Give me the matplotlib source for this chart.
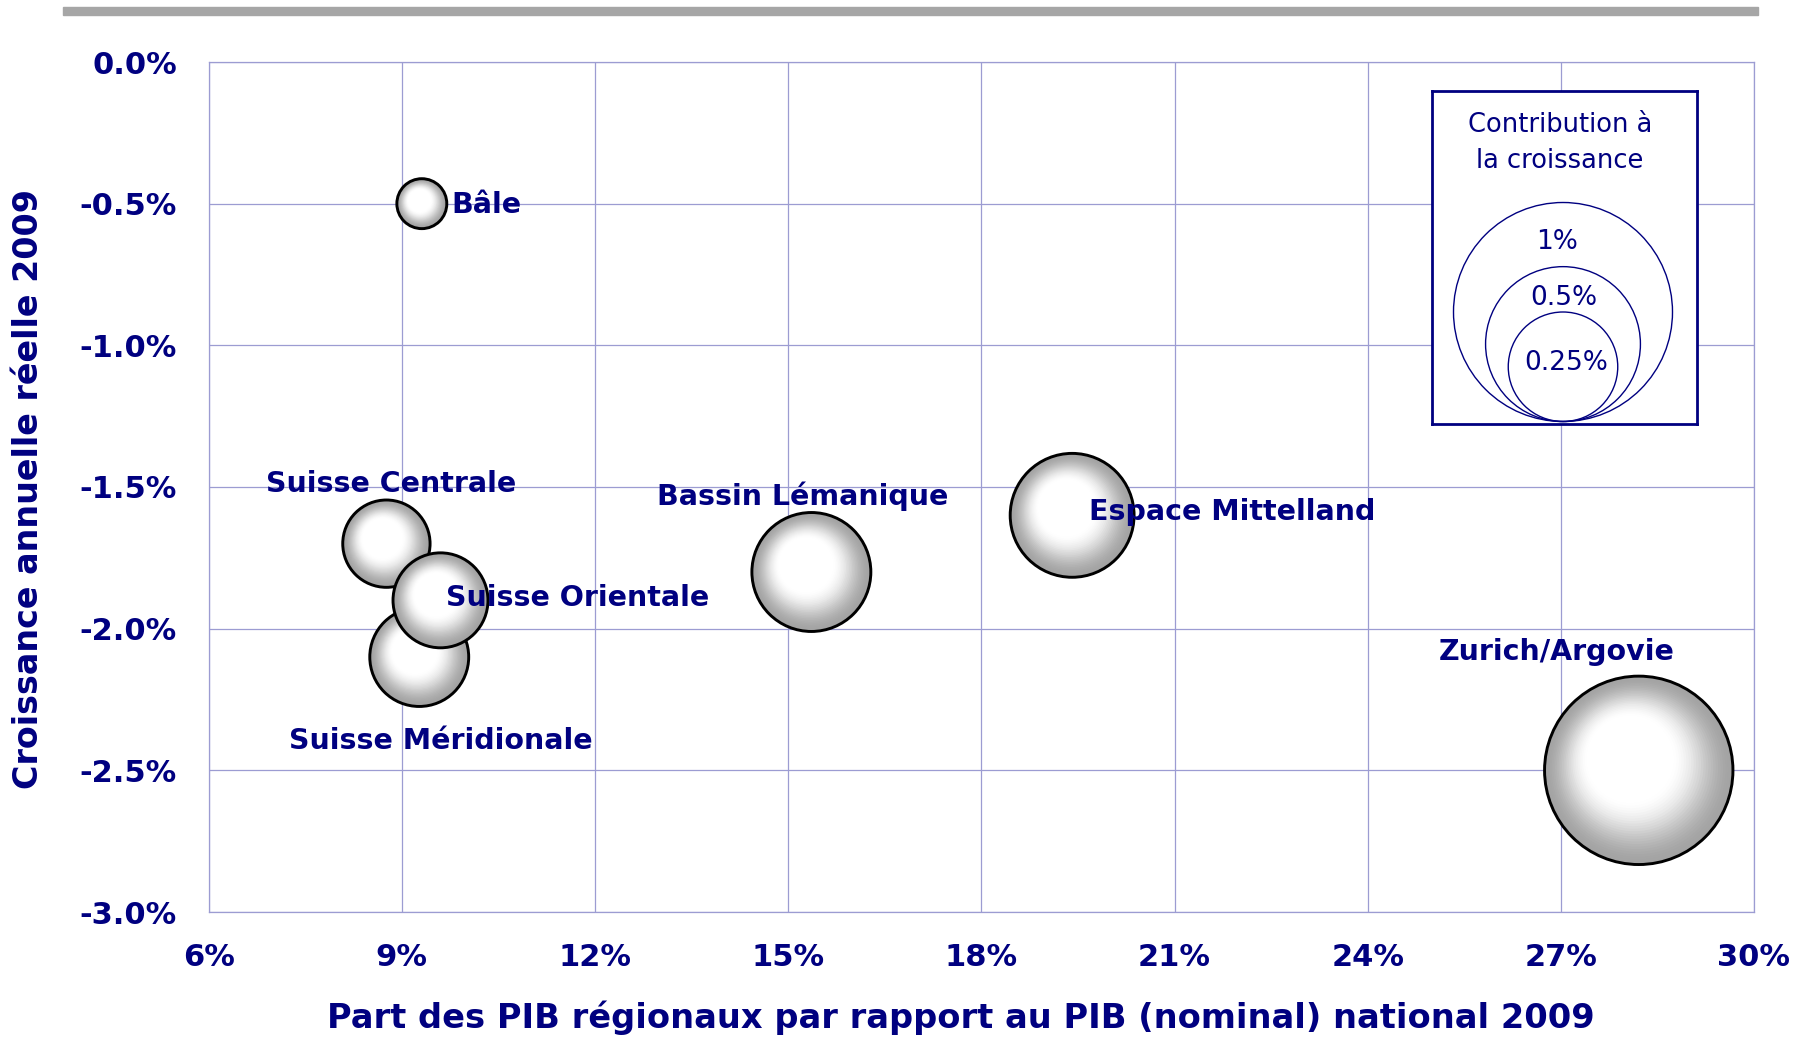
import matplotlib
matplotlib.use("Agg")
import matplotlib.pyplot as plt
from matplotlib.patches import Circle, Rectangle
from matplotlib.transforms import IdentityTransform

# Données
regions = ["Bâle", "Suisse Centrale", "Suisse Méridionale", "Suisse Orientale",
           "Bassin Lémanique", "Espace Mittelland", "Zurich/Argovie"]
part_pib = [9.31, 8.76, 9.27, 9.60, 15.36, 19.41, 28.21]          # % du PIB national
croissance = [-0.50, -1.70, -2.10, -1.90, -1.80, -1.60, -2.50]     # croissance réelle 2009 (%)
contribution = [0.052, 0.159, 0.204, 0.188, 0.295, 0.32, 0.74]     # contribution à la croissance (%)

legende_valeurs = [1.0, 0.5, 0.25]
legende_textes = ["1%", "0.5%", "0.25%"]

x_ticks = [6, 9, 12, 15, 18, 21, 24, 27, 30]
y_ticks = [0.0, -0.5, -1.0, -1.5, -2.0, -2.5, -3.0]

# position des étiquettes (décalage en points, alignement)
etiquettes = [(21.5, -0.8, "left"), (3.3, 43, "center"), (15.7, -60.5, "center"),
              (4.1, 1.7, "left"), (-6.2, 54.7, "center"), (12.4, 2.5, "left"),
              (-58.8, 85.4, "center")]

W, H = 1805, 1040
NAVY = "#000080"
GRID = "#9c9cd2"
R1 = 109.5  # rayon (px) d'une bulle de 1%

fig = plt.figure(figsize=(W / 100, H / 100), dpi=100)
ax = fig.add_axes([208.7 / W, 1 - 912 / H, (1754 - 208.7) / W, (912 - 62) / H])
ax.set_xlim(6, 30)
ax.set_ylim(-3, 0)
ax.set_xticks(x_ticks)
ax.set_yticks(y_ticks)
ax.set_xticklabels(["%d%%" % v for v in x_ticks])
ax.set_yticklabels(["%.1f%%" % v for v in y_ticks])
ax.tick_params(length=0, labelsize=22, labelcolor=NAVY)
ax.tick_params(axis="x", pad=22)
ax.tick_params(axis="y", pad=23)
for lab in ax.get_xticklabels() + ax.get_yticklabels():
    lab.set_fontweight("bold")
ax.grid(True, color=GRID, lw=0.9)
ax.set_axisbelow(True)
for s in ax.spines.values():
    s.set_color(GRID)
    s.set_linewidth(0.9)


def bulle(ax, cx, cy, r, z):
    # dégradé radial avec reflet en haut à gauche
    n = 45
    for k in range(n):
        t = k / n
        u = min(1.0, t / 0.55)
        g = 0.64 + 0.36 * (u * u * (3 - 2 * u))
        ax.add_patch(Circle((cx - 0.17 * r * t, cy + 0.22 * r * t), r * (1 - t),
                            transform=IdentityTransform(), facecolor=(g, g, g),
                            edgecolor="none", zorder=z))
    ax.add_patch(Circle((cx, cy), r, transform=IdentityTransform(), facecolor="none",
                        edgecolor="black", lw=2.1, zorder=z + 0.5))


for i in range(len(regions)):
    px, py = ax.transData.transform((part_pib[i], croissance[i]))
    bulle(ax, px, py, R1 * contribution[i] ** 0.5, 3 + i)
    dx, dy, ha = etiquettes[i]
    ax.annotate(regions[i], (part_pib[i], croissance[i]), xytext=(dx, dy),
                textcoords="offset points", ha=ha, va="center", fontsize=20.5,
                fontweight="bold", color=NAVY, zorder=20)

ax.set_xlim(6, 30)
ax.set_ylim(-3, 0)

fig.text(961 / W, 1 - 1018 / H, "Part des PIB régionaux par rapport au PIB (nominal) national 2009",
         ha="center", va="center", fontsize=24.2, fontweight="bold", color=NAVY)
fig.text(29 / W, 1 - 489 / H, "Croissance annuelle réelle 2009", rotation=90,
         ha="center", va="center", fontsize=24, fontweight="bold", color=NAVY)

# barre grise en haut
fig.add_artist(Rectangle((63 / W, 1 - 14.7 / H), (1758 - 63) / W, 7.3 / H,
                         transform=fig.transFigure, color="#a6a6a6"))

# légende des tailles
lax = fig.add_axes([1432 / W, 1 - 424 / H, 265 / W, 333 / H])
lax.set_xlim(0, 265)
lax.set_ylim(0, 333)
lax.set_xticks([])
lax.set_yticks([])
for s in lax.spines.values():
    s.set_color(NAVY)
    s.set_linewidth(2)
lax.text(128, 281, "Contribution à\nla croissance", ha="center", va="center",
         fontsize=18.5, color=NAVY, linespacing=1.55)
lab_pos = [(125.5, 182), (132, 126), (134, 61)]
for v, txt, (tx, ty) in zip(legende_valeurs, legende_textes, lab_pos):
    r = R1 * v ** 0.5
    lax.add_patch(Circle((131, 2.5 + r), r, facecolor="none", edgecolor=NAVY, lw=1))
    lax.text(tx, ty, txt, ha="center", va="center", fontsize=19, color=NAVY)

fig.savefig("out.png", dpi=100)
